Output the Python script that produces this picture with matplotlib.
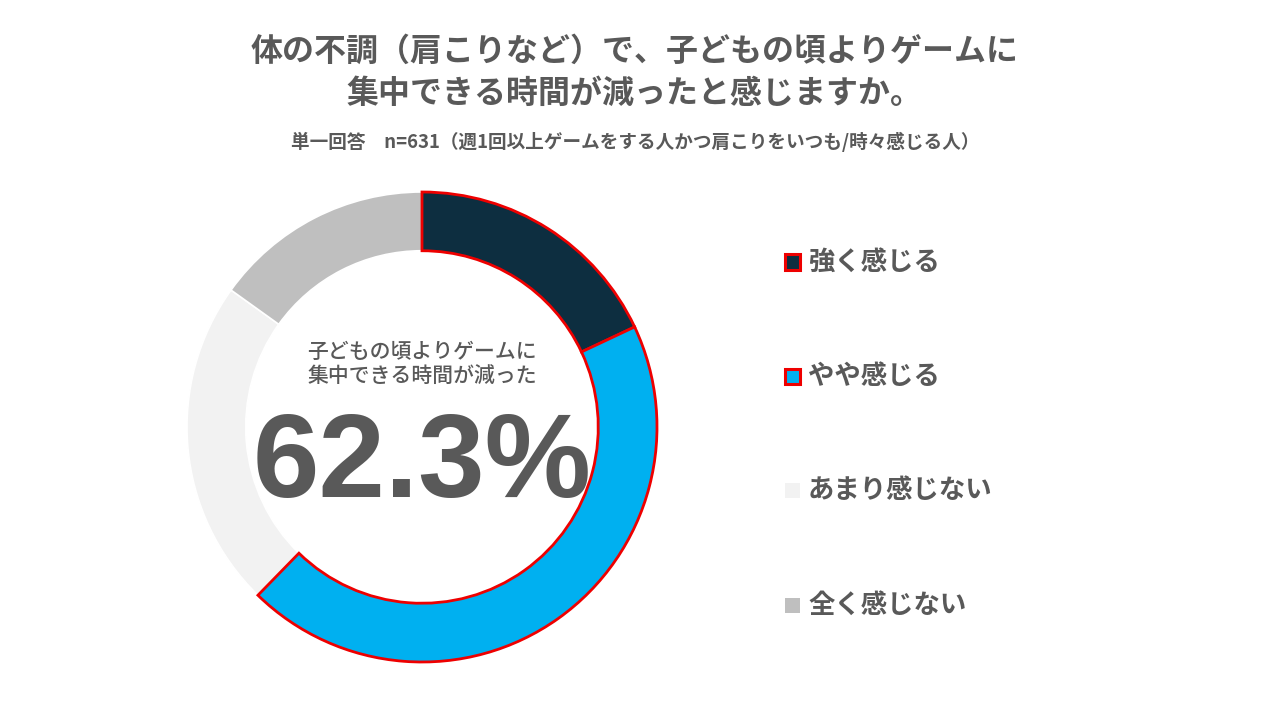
import matplotlib
matplotlib.use("Agg")
import matplotlib.pyplot as plt
from matplotlib.patches import Rectangle

plt.rcParams['font.family'] = ['Noto Sans CJK JP', 'DejaVu Sans']

categories = ['強く感じる', 'やや感じる', 'あまり感じない', '全く感じない']
values = [18.0, 44.3, 22.6, 15.1]
colors = ['#0D2E40', '#00B0F0', '#F2F2F2', '#BFBFBF']
red_edge = [True, True, False, False]
title_lines = ['体の不調（肩こりなど）で、子どもの頃よりゲームに', '集中できる時間が減ったと感じますか。']
subtitle = '単一回答　n=631（週1回以上ゲームをする人かつ肩こりをいつも/時々感じる人）'
center_label = '子どもの頃よりゲームに\n集中できる時間が減った'
center_value = '62.3%'

TXT = '#595959'
RED = '#EE0000'

fig = plt.figure(figsize=(12.8, 7.2), dpi=100)
fig.patch.set_facecolor('white')

# titles
fig.text(635/1280, 1 - 52/720, title_lines[0], ha='center', va='center', fontsize=23, fontweight='bold', color=TXT)
fig.text(635/1280, 1 - 94/720, title_lines[1], ha='center', va='center', fontsize=23, fontweight='bold', color=TXT)
fig.text(635/1280, 1 - 142/720, subtitle, ha='center', va='center', fontsize=13.4, fontweight='bold', color=TXT)

# donut
cx, cy, r = 422, 427, 235
ax = fig.add_axes([(cx - r)/1280, (720 - cy - r)/720, 2*r/1280, 2*r/720])
ax.set_aspect('equal')
wedges, _ = ax.pie(values, colors=colors, startangle=90, counterclock=False, radius=1,
                   wedgeprops=dict(width=0.25, edgecolor='white', linewidth=1.2))
for w, red in zip(wedges, red_edge):
    w.set_clip_on(False)
    if red:
        w.set_edgecolor(RED)
        w.set_linewidth(2.0)
        w.set_zorder(3)
ax.set_xlim(-1.0, 1.0)
ax.set_ylim(-1.0, 1.0)
ax.axis('off')

ax.text(0, 0.265, center_label, ha='center', va='center', fontsize=15, fontweight='medium',
        color=TXT, linespacing=1.15)
ax.text(0, -0.17, center_value, ha='center', va='center', fontsize=86, fontweight='bold',
        color=TXT, family=['Liberation Sans', 'DejaVu Sans'])

# legend
leg_y = [262, 376, 490, 605]
for cat, col, red, y in zip(categories, colors, red_edge, leg_y):
    size = 15
    rect = Rectangle(((792 - size/2)/1280, 1 - (y + size/2)/720), size/1280, size/720,
                     transform=fig.transFigure, facecolor=col,
                     edgecolor=RED if red else col, linewidth=2.2 if red else 0)
    fig.patches.append(rect)
    fig.text(808/1280, 1 - y/720, cat, ha='left', va='center', fontsize=19, fontweight='bold', color=TXT)

fig.savefig('out.png', dpi=100, facecolor='white')
